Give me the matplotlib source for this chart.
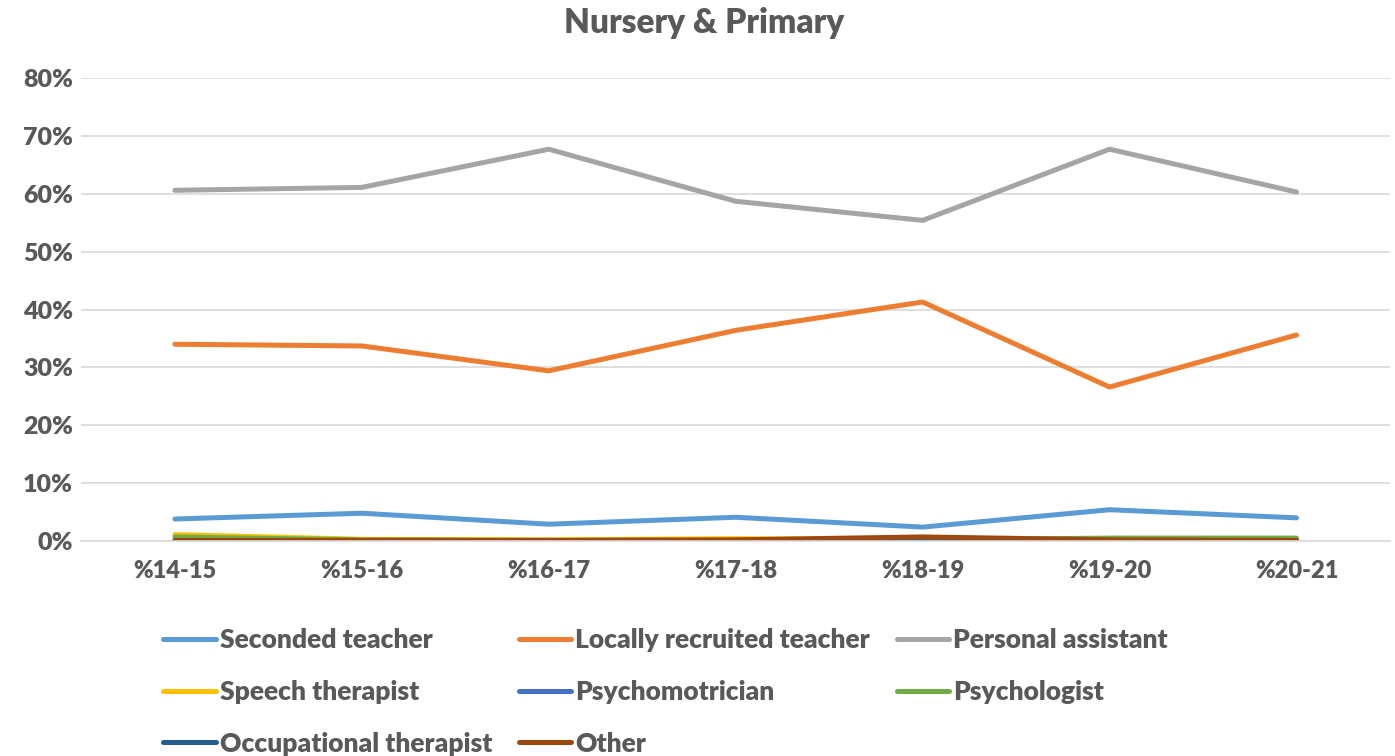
import numpy as np
import matplotlib.pyplot as plt

plt.rcParams['font.family'] = ['Lato', 'DejaVu Sans']

years = ["%14-15", "%15-16", "%16-17", "%17-18", "%18-19", "%19-20", "%20-21"]

seconded = [3.8, 4.8, 2.9, 4.1, 2.4, 5.4, 4.0]
locally = [34.0, 33.7, 29.4, 36.4, 41.3, 26.6, 35.6]
assistant = [60.6, 61.1, 67.7, 58.7, 55.4, 67.7, 60.3]
speech = [1.1, 0.3, 0.2, 0.4, 0.2, 0.1, 0.1]
psychomotor = [0.1, 0.0, 0.0, 0.0, 0.1, 0.0, 0.0]
psychologist = [0.7, 0.2, 0.1, 0.1, 0.2, 0.5, 0.5]
occupational = [0.0, 0.0, 0.0, 0.0, 0.3, 0.0, 0.0]
other = [0.1, 0.1, 0.1, 0.2, 0.7, 0.2, 0.1]

series = [
    ("Seconded teacher", seconded, "#5B9BD5"),
    ("Locally recruited teacher", locally, "#ED7D31"),
    ("Personal assistant", assistant, "#A5A5A5"),
    ("Speech therapist", speech, "#FFC000"),
    ("Psychomotrician", psychomotor, "#4472C4"),
    ("Psychologist", psychologist, "#70AD47"),
    ("Occupational therapist", occupational, "#255E91"),
    ("Other", other, "#9E480E"),
]

text_col = "#595959"

fig = plt.figure(figsize=(13.95, 7.56), dpi=100)
ax = fig.add_axes([0.0584, 0.2844, 0.938, 0.6124])

x = np.arange(len(years))
for name, vals, col in series:
    ax.plot(x, np.array(vals) / 100, color=col, lw=3.6, label=name,
            solid_capstyle='round')

ax.set_xlim(-0.5, len(years) - 0.5)
ax.set_ylim(0, 0.8)
ax.set_yticks(np.arange(0, 0.81, 0.1))
ax.set_yticklabels([f"{int(round(v * 100))}%" for v in np.arange(0, 0.81, 0.1)])
ax.set_xticks(x)
ax.set_xticklabels(years)
ax.grid(axis='y', color="#D9D9D9", lw=1.2)
ax.set_axisbelow(True)
for s in ['top', 'right', 'left']:
    ax.spines[s].set_visible(False)
ax.spines['bottom'].set_color("#D9D9D9")
ax.spines['bottom'].set_linewidth(1.2)
ax.tick_params(length=0, labelcolor=text_col)
ax.tick_params(axis='x', labelsize=17, pad=14)
ax.tick_params(axis='y', labelsize=18, pad=6)
for lab in ax.get_xticklabels() + ax.get_yticklabels():
    lab.set_fontweight('heavy')

fig.text(0.505, 0.97, "Nursery & Primary", ha='center', va='center',
         fontsize=24, fontweight='heavy', color=text_col)

# legend fills row by row like the original
handles, labels = ax.get_legend_handles_labels()
order = [0, 3, 6, 1, 4, 7, 2, 5]
leg = fig.legend([handles[i] for i in order], [labels[i] for i in order],
                 loc='upper left', bbox_to_anchor=(0.117, 0.169), ncol=3,
                 frameon=False, fontsize=19, handlelength=2.0,
                 handletextpad=0.15, columnspacing=1.0, labelspacing=1.05,
                 borderaxespad=0, borderpad=0)
for t in leg.get_texts():
    t.set_color(text_col)
    t.set_fontweight('heavy')

fig.savefig("out.png", dpi=100)
